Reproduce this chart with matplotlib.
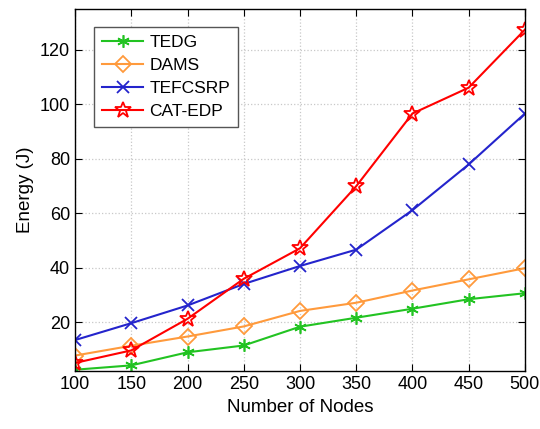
import numpy as np
import matplotlib.pyplot as plt

plt.rcParams['font.family'] = ['Liberation Sans', 'DejaVu Sans']

# Data
nodes = [100, 150, 200, 250, 300, 350, 400, 450, 500]
tedg = [2.5, 4.1, 8.9, 11.4, 18.3, 21.6, 24.9, 28.4, 30.6]
dams = [7.7, 11.3, 14.7, 18.4, 24.1, 27.1, 31.6, 35.7, 39.8]
tefcsrp = [13.4, 19.6, 26.1, 34.0, 40.6, 46.6, 61.1, 77.9, 96.6]
cat_edp = [5.0, 9.6, 21.2, 35.9, 47.1, 69.9, 96.6, 106.1, 127.4]

fig = plt.figure(figsize=(5.4, 4.29), dpi=100)
ax = fig.add_axes([0.139, 0.135, 0.833, 0.844])

ax.plot(nodes, tedg, color='#22c322', marker=(6, 2, 0), markersize=9,
        markeredgewidth=1.2, linewidth=1.5, label='TEDG')
ax.plot(nodes, dams, color='#ff9a3c', marker='D', markersize=8,
        markerfacecolor='none', markeredgewidth=1.3, linewidth=1.5, label='DAMS')
ax.plot(nodes, tefcsrp, color='#2424cc', marker='x', markersize=8,
        markeredgewidth=1.3, linewidth=1.5, label='TEFCSRP')
ax.plot(nodes, cat_edp, color='#ff0000', marker='*', markersize=12,
        markerfacecolor='none', markeredgewidth=1.3, linewidth=1.5, label='CAT-EDP')

ax.set_xlim(100, 500)
ax.set_ylim(2, 135)
ax.set_xticks(nodes)
ax.set_yticks([20, 40, 60, 80, 100, 120])
ax.tick_params(direction='in', top=True, right=True, labelsize=13, length=5)
ax.grid(True, linestyle=':', color='#c8c8c8', linewidth=0.9)
for s in ax.spines.values():
    s.set_linewidth(1.0)

ax.set_xlabel('Number of Nodes', fontsize=13.5)
ax.set_ylabel('Energy (J)', fontsize=13.5)

leg = ax.legend(loc='upper left', bbox_to_anchor=(0.042, 0.95), fontsize=12.5,
                fancybox=False, edgecolor='#555555', framealpha=1,
                handlelength=2.4, handletextpad=0.35, borderpad=0.45,
                labelspacing=0.45, borderaxespad=0)
leg.get_frame().set_linewidth(1.0)

plt.savefig('out.png', dpi=100)
